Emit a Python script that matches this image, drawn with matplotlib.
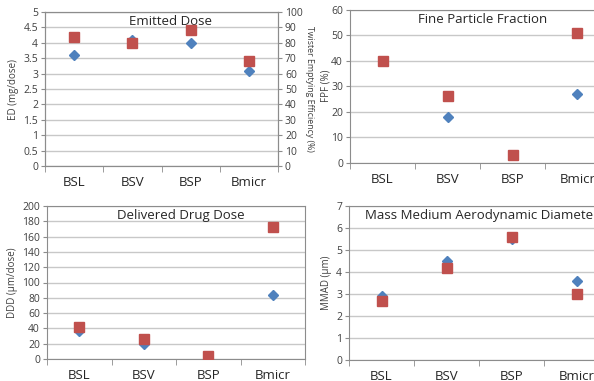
import numpy as np
import matplotlib
matplotlib.use("Agg")
import matplotlib.pyplot as plt
from matplotlib.ticker import MultipleLocator, FixedLocator, FormatStrFormatter

plt.rcParams['font.family'] = ['Open Sans', 'DejaVu Sans']

# Data
categories = ['BSL', 'BSV', 'BSP', 'Bmicr']

ed_blue = [3.6, 4.1, 4.0, 3.1]            # ED (mg/dose), left axis
tee_red = [84, 80, 88, 68]                # Twister emptying efficiency (%), right axis

fpf_blue = [40, 18, 3.3, 27]
fpf_red = [40, 26, 3.3, 51]

ddd_blue = [36, 19, 4, 84]
ddd_red = [42, 26, 4, 173]

mmad_blue = [2.9, 4.5, 5.5, 3.6]
mmad_red = [2.7, 4.2, 5.6, 3.0]

W, H = 594, 381
BLUE = '#4F81BD'
RED = '#C0504D'
GRID = '#C8C8C8'
FRAME = '#8C8C8C'
TXT = '#404040'

fig = plt.figure(figsize=(W / 100, H / 100), dpi=100)


def make_ax(left, right, top, bottom):
    return fig.add_axes([left / W, 1 - bottom / H, (right - left) / W, (bottom - top) / H])


def yticks(ax, step):
    ax.yaxis.set_major_locator(MultipleLocator(step))
    ax.yaxis.set_major_formatter(FormatStrFormatter('%g'))
    ax.tick_params(axis='y', length=3, color=FRAME, labelsize=7.5, labelcolor=TXT, pad=2)


def style(ax, ymax, step, title, ylabel, title_x=0.5, ha='center', lpad=3):
    x = np.arange(len(categories))
    ax.set_xlim(-0.5, len(categories) - 0.5)
    ax.set_ylim(0, ymax)
    yticks(ax, step)
    ax.set_xticks(x)
    ax.set_xticklabels(categories, fontsize=9.5, color='#262626')
    ax.xaxis.set_minor_locator(FixedLocator(np.arange(-0.5, len(categories), 1.0)))
    ax.tick_params(axis='x', which='major', length=0, pad=7)
    ax.tick_params(axis='x', which='minor', length=4, color=FRAME)
    ax.grid(axis='y', color=GRID, linewidth=1)
    ax.set_axisbelow(True)
    for s in ax.spines.values():
        s.set_color(FRAME)
        s.set_linewidth(0.8)
    ax.set_ylabel(ylabel, fontsize=7, color=TXT, labelpad=lpad)
    ax.text(title_x, 0.98, title, transform=ax.transAxes, ha=ha, va='top',
            fontsize=9.5, color='#262626')
    return x


def points(ax, x, blue, red):
    ax.plot(x, blue, linestyle='none', marker='D', ms=5, color=BLUE, zorder=3)
    ax.plot(x, red, linestyle='none', marker='s', ms=6.5, color=RED, zorder=4)


# Emitted dose (two y axes)
ax1 = make_ax(45, 278, 12, 166)
x = style(ax1, 5, 0.5, 'Emitted Dose', 'ED (mg/dose)', title_x=0.54)
ax1.plot(x, ed_blue, linestyle='none', marker='D', ms=5, color=BLUE, zorder=3)
ax1r = ax1.twinx()
ax1r.set_ylim(0, 100)
yticks(ax1r, 10)
for s in ax1r.spines.values():
    s.set_color(FRAME)
    s.set_linewidth(0.8)
ax1r.plot(x, tee_red, linestyle='none', marker='s', ms=6.5, color=RED, zorder=4)
ax1r.set_ylabel('Twister Emptying Efficiency (%)', fontsize=6.3, color=TXT,
                rotation=-90, labelpad=8)

# Fine particle fraction
ax2 = make_ax(350, 610, 9.5, 163)
x = style(ax2, 60, 10, 'Fine Particle Fraction', 'FPF (%)', title_x=0.51, lpad=0)
points(ax2, x, fpf_blue, fpf_red)

# Delivered drug dose
ax3 = make_ax(47, 305, 206, 359)
x = style(ax3, 200, 20, 'Delivered Drug Dose', 'DDD (µm/dose)', title_x=0.52)
points(ax3, x, ddd_blue, ddd_red)

# MMAD
ax4 = make_ax(349, 609, 206, 360)
x = style(ax4, 7, 1, 'Mass Medium Aerodynamic Diameter', 'MMAD (µm)',
          title_x=0.06, ha='left')
points(ax4, x, mmad_blue, mmad_red)

fig.savefig('out.png', dpi=100)
